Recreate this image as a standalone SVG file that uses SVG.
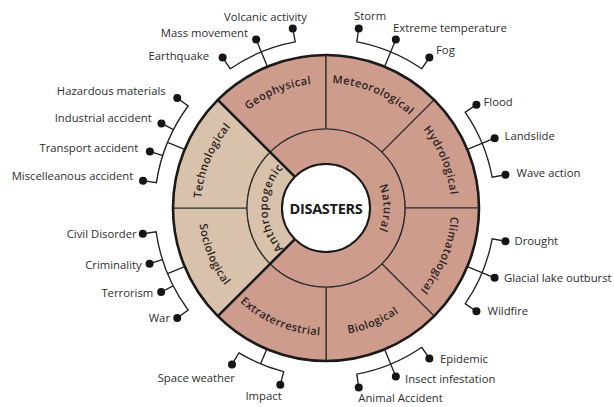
<svg xmlns="http://www.w3.org/2000/svg" width="614" height="407" viewBox="0 0 614 407">
<style>
.lbl{font-family:"Open Sans","Liberation Sans",sans-serif;font-size:11.3px;fill:#2e2e2e}
.sec{font-family:"Open Sans","Liberation Sans",sans-serif;font-size:11px;font-weight:600;letter-spacing:0.45px;fill:#2b2222}
.mid{font-family:"Open Sans","Liberation Sans",sans-serif;font-size:11.3px;font-weight:600;letter-spacing:0.6px;fill:#2b2222}
.nat{fill:#cd9c8c;stroke:#2a2a2a;stroke-width:1.2}
.ant{fill:#d8c2ab;stroke:#2a2a2a;stroke-width:1.2}
.thick{stroke:#1a1a1a;stroke-width:2.6;fill:none}
.conn{stroke:#222;stroke-width:1.35;fill:none}
.dot{fill:#151515}
</style>
<defs>
<path id="pGeo" d="M237.61 119.61 A125 125 0 0 1 326 83"/>
<path id="pMet" d="M326 83 A125 125 0 0 1 414.39 119.61"/>
<path id="pHyd" d="M414.39 119.61 A125 125 0 0 1 451 208"/>
<path id="pCli" d="M451 208 A125 125 0 0 1 414.39 296.39"/>
<path id="pTec" d="M201 208 A125 125 0 0 1 237.61 119.61"/>
<path id="pBio" d="M326 335.5 A127.5 127.5 0 0 0 416.16 298.16"/>
<path id="pExt" d="M235.84 298.16 A127.5 127.5 0 0 0 326 335.5"/>
<path id="pSoc" d="M198.5 208 A127.5 127.5 0 0 0 235.84 298.16"/>
<path id="pAnt" d="M284.63 249.37 A58.5 58.5 0 0 1 284.63 166.63"/>
<path id="pNat" d="M366.66 167.34 A57.5 57.5 0 0 1 366.66 248.66"/>
</defs>

<g id="geophysical"><path class="nat" d="M217.81 99.81 A153 153 0 0 1 326 55 L326 129 A79 79 0 0 0 270.14 152.14 Z"/><text class="sec"><textPath href="#pGeo" startOffset="50%" text-anchor="middle">Geophysical</textPath></text></g>
<g id="meteorological"><path class="nat" d="M326 55 A153 153 0 0 1 434.19 99.81 L381.86 152.14 A79 79 0 0 0 326 129 Z"/><text class="sec"><textPath href="#pMet" startOffset="50%" text-anchor="middle">Meteorological</textPath></text></g>
<g id="hydrological"><path class="nat" d="M434.19 99.81 A153 153 0 0 1 479 208 L405 208 A79 79 0 0 0 381.86 152.14 Z"/><text class="sec"><textPath href="#pHyd" startOffset="50%" text-anchor="middle">Hydrological</textPath></text></g>
<g id="climatological"><path class="nat" d="M479 208 A153 153 0 0 1 434.19 316.19 L381.86 263.86 A79 79 0 0 0 405 208 Z"/><text class="sec"><textPath href="#pCli" startOffset="50%" text-anchor="middle">Climatological</textPath></text></g>
<g id="biological"><path class="nat" d="M434.19 316.19 A153 153 0 0 1 326 361 L326 287 A79 79 0 0 0 381.86 263.86 Z"/><text class="sec"><textPath href="#pBio" startOffset="50%" text-anchor="middle">Biological</textPath></text></g>
<g id="extraterrestrial"><path class="nat" d="M326 361 A153 153 0 0 1 217.81 316.19 L270.14 263.86 A79 79 0 0 0 326 287 Z"/><text class="sec"><textPath href="#pExt" startOffset="50%" text-anchor="middle">Extraterrestrial</textPath></text></g>
<g id="sociological"><path class="ant" d="M217.81 316.19 A153 153 0 0 1 173 208 L247 208 A79 79 0 0 0 270.14 263.86 Z"/><text class="sec"><textPath href="#pSoc" startOffset="50%" text-anchor="middle">Sociological</textPath></text></g>
<g id="technological"><path class="ant" d="M173 208 A153 153 0 0 1 217.81 99.81 L270.14 152.14 A79 79 0 0 0 247 208 Z"/><text class="sec"><textPath href="#pTec" startOffset="50%" text-anchor="middle">Technological</textPath></text></g>

<g id="natural"><path class="nat" d="M270.14 152.14 A79 79 0 1 1 270.14 263.86 L294.89 239.11 A44 44 0 1 0 294.89 176.89 Z"/><text class="mid"><textPath href="#pNat" startOffset="50%" text-anchor="middle">Natural</textPath></text></g>
<g id="anthropogenic"><path class="ant" d="M270.14 263.86 A79 79 0 0 1 270.14 152.14 L294.89 176.89 A44 44 0 0 0 294.89 239.11 Z"/><text class="mid"><textPath href="#pAnt" startOffset="50%" text-anchor="middle">Anthropogenic</textPath></text></g>

<g id="borders">
<circle cx="326" cy="208" r="153" class="thick"/>
<path class="thick" d="M294.89 176.89 L217.81 99.81 M294.89 239.11 L217.81 316.19"/>
</g>

<g id="disasters"><circle cx="326" cy="208" r="44" fill="#fff" stroke="#1a1a1a" stroke-width="2"/><text x="326" y="213.5" text-anchor="middle" font-family="'Open Sans','Liberation Sans',sans-serif" font-size="14.5" font-weight="700" letter-spacing="-0.3" fill="#1a1a1a">DISASTERS</text></g>

<g id="connectors" class="conn">
<path d="M222.63 57.60 L230.28 68.73 A169 169 0 0 1 295.21 41.82 L292.75 28.55 M267.45 66.64 L256.16 39.39"/>
<path d="M358.75 28.55 L356.79 41.82 A169 169 0 0 1 421.72 68.73 L429.37 57.60 M384.55 66.64 L395.84 39.39"/>
<path d="M476.40 104.63 L465.27 112.28 A169 169 0 0 1 492.18 177.21 L505.45 174.75 M467.36 149.45 L494.61 138.16"/>
<path d="M505.45 241.25 L492.18 238.79 A169 169 0 0 1 465.27 303.72 L476.40 311.37 M467.36 266.55 L494.61 277.84"/>
<path d="M429.37 358.40 L421.72 347.27 A169 169 0 0 1 356.79 374.18 L358.75 387.45 M384.55 349.36 L395.84 376.61"/>
<path d="M280.30 384.68 L283.68 371.61 A169 169 0 0 1 238.96 352.87 L232.01 364.44 M266.83 349.10 L260.65 363.85"/>
<path d="M177.28 97.96 L188.13 105.99 A171.5 171.5 0 0 0 156.39 182.65 L143.03 180.66 M161.46 123.44 L173.47 129.61 M149.86 151.45 L162.71 155.57 M184.64 149.45 L167.55 142.37"/>
<path d="M142.79 233.75 L156.16 231.87 A171.5 171.5 0 0 0 188.13 310.01 L177.28 318.04 M149.57 263.63 L162.44 259.57 M161.16 291.99 L173.19 285.86 M184.64 266.55 L167.55 273.63"/>
</g>

<g id="earthquake"><circle class="dot" cx="222.63" cy="57.60" r="4"/><text class="lbl" x="209" y="60" text-anchor="end">Earthquake</text></g>
<g id="mass-movement"><circle class="dot" cx="256.16" cy="39.39" r="4"/><text class="lbl" x="248" y="37" text-anchor="end">Mass movement</text></g>
<g id="volcanic-activity"><circle class="dot" cx="292.75" cy="28.55" r="4"/><text class="lbl" x="224" y="21">Volcanic activity</text></g>
<g id="storm"><circle class="dot" cx="358.75" cy="28.55" r="4"/><text class="lbl" x="354" y="20">Storm</text></g>
<g id="extreme-temperature"><circle class="dot" cx="395.84" cy="39.39" r="4"/><text class="lbl" x="393" y="31.5">Extreme temperature</text></g>
<g id="fog"><circle class="dot" cx="429.37" cy="57.60" r="4"/><text class="lbl" x="436" y="54">Fog</text></g>
<g id="flood"><circle class="dot" cx="476.40" cy="104.63" r="4"/><text class="lbl" x="483.5" y="106">Flood</text></g>
<g id="landslide"><circle class="dot" cx="494.61" cy="138.16" r="4"/><text class="lbl" x="504.5" y="140">Landslide</text></g>
<g id="wave-action"><circle class="dot" cx="505.45" cy="174.75" r="4"/><text class="lbl" x="516.5" y="176.7">Wave action</text></g>
<g id="drought"><circle class="dot" cx="505.45" cy="241.25" r="4"/><text class="lbl" x="514.5" y="245">Drought</text></g>
<g id="glacial-lake-outburst"><circle class="dot" cx="494.61" cy="277.84" r="4"/><text class="lbl" x="504" y="281.7">Glacial lake outburst</text></g>
<g id="wildfire"><circle class="dot" cx="476.40" cy="311.37" r="4"/><text class="lbl" x="487.5" y="315">Wildfire</text></g>
<g id="epidemic"><circle class="dot" cx="429.37" cy="358.40" r="4"/><text class="lbl" x="440" y="363">Epidemic</text></g>
<g id="insect-infestation"><circle class="dot" cx="395.84" cy="376.61" r="4"/><text class="lbl" x="405" y="383.3">Insect infestation</text></g>
<g id="animal-accident"><circle class="dot" cx="358.75" cy="387.45" r="4"/><text class="lbl" x="358.3" y="401.7">Animal Accident</text></g>
<g id="impact"><circle class="dot" cx="280.30" cy="384.68" r="4"/><text class="lbl" x="281.7" y="400" text-anchor="end">Impact</text></g>
<g id="space-weather"><circle class="dot" cx="232.01" cy="364.44" r="4"/><text class="lbl" x="235" y="381.7" text-anchor="end">Space weather</text></g>
<g id="hazardous-materials"><circle class="dot" cx="177.28" cy="97.96" r="4"/><text class="lbl" x="165.7" y="95" text-anchor="end">Hazardous materials</text></g>
<g id="industrial-accident"><circle class="dot" cx="161.46" cy="123.44" r="4"/><text class="lbl" x="151.7" y="121.7" text-anchor="end">Industrial accident</text></g>
<g id="transport-accident"><circle class="dot" cx="149.86" cy="151.45" r="4"/><text class="lbl" x="138.3" y="151.7" text-anchor="end">Transport accident</text></g>
<g id="miscellaneous-accident"><circle class="dot" cx="143.03" cy="180.66" r="4"/><text class="lbl" x="133.3" y="180" text-anchor="end">Miscelleanous accident</text></g>
<g id="civil-disorder"><circle class="dot" cx="142.79" cy="233.75" r="4"/><text class="lbl" x="136.7" y="237.7" text-anchor="end">Civil Disorder</text></g>
<g id="criminality"><circle class="dot" cx="149.57" cy="263.63" r="4"/><text class="lbl" x="141.7" y="269.3" text-anchor="end">Criminality</text></g>
<g id="terrorism"><circle class="dot" cx="161.16" cy="291.99" r="4"/><text class="lbl" x="153.3" y="297.3" text-anchor="end">Terrorism</text></g>
<g id="war"><circle class="dot" cx="177.28" cy="318.04" r="4"/><text class="lbl" x="170" y="321.7" text-anchor="end">War</text></g>
</svg>
